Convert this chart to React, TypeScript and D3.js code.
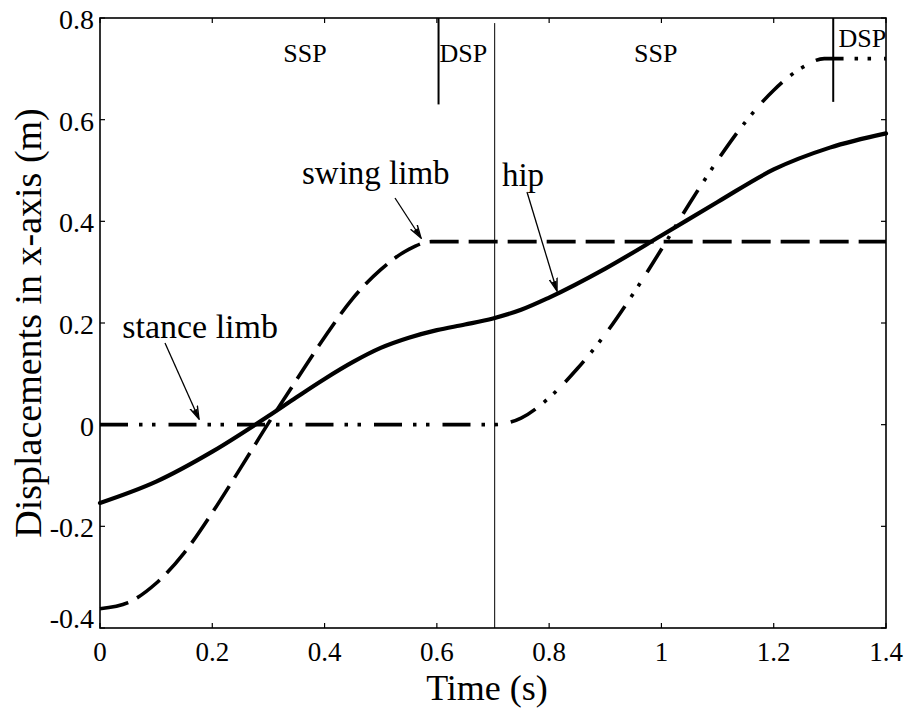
import React from "react";
import * as d3 from "d3";

// ---- data (time in s, displacement in m) ----
const hipTime = [0, 0.1, 0.2, 0.3, 0.35, 0.4, 0.45, 0.5, 0.55, 0.6, 0.65, 0.7, 0.75, 0.8, 0.9, 1.0, 1.1, 1.2, 1.3, 1.4];
const hipDisp = [-0.154, -0.112, -0.053, 0.017, 0.054, 0.09, 0.123, 0.151, 0.171, 0.186, 0.197, 0.209, 0.226, 0.25, 0.307, 0.372, 0.438, 0.502, 0.545, 0.573];

const swingTime = [0, 0.05, 0.1, 0.15, 0.2, 0.25, 0.3, 0.35, 0.4, 0.45, 0.5, 0.55, 0.59, 0.7, 1.0, 1.4];
const swingDisp = [-0.362, -0.35, -0.312, -0.252, -0.173, -0.086, 0.003, 0.088, 0.172, 0.248, 0.305, 0.345, 0.36, 0.36, 0.36, 0.36];

const stanceTime = [0, 0.35, 0.7, 0.72, 0.75, 0.8, 0.85, 0.9, 0.95, 1.0, 1.05, 1.1, 1.15, 1.2, 1.25, 1.29, 1.4];
const stanceDisp = [0, 0, 0, 0.002, 0.013, 0.053, 0.11, 0.178, 0.258, 0.345, 0.435, 0.52, 0.596, 0.658, 0.702, 0.72, 0.72];

const xTicks = [0, 0.2, 0.4, 0.6, 0.8, 1.0, 1.2, 1.4];
const xTickLabels = ["0", "0.2", "0.4", "0.6", "0.8", "1", "1.2", "1.4"];
const yTicks = [-0.4, -0.2, 0, 0.2, 0.4, 0.6, 0.8];
const yTickLabels = ["-0.4", "-0.2", "0", "0.2", "0.4", "0.6", "0.8"];

// phase boundaries (s) and phase labels
const phaseLines = [0.603, 1.306]; // short heavy markers (start of DSP)
const phaseLineBottom = [0.63, 0.635];
const stepBoundary = 0.703;
const phaseLabels = [
  { text: "SSP", t: 0.365, y: 0.713 },
  { text: "DSP", t: 0.647, y: 0.713 },
  { text: "SSP", t: 0.99, y: 0.713 },
  { text: "DSP", t: 1.358, y: 0.743 },
];

const FONT = "'Times New Roman', 'Liberation Serif', serif";

export default function App() {
  const W = 911, H = 708;
  const left = 100, right = 886, top = 18, bottom = 628;
  const x = d3.scaleLinear().domain([0, 1.4]).range([left, right]);
  const y = d3.scaleLinear().domain([-0.4, 0.8]).range([bottom, top]);

  const line = d3
    .line<[number, number]>()
    .x((d) => x(d[0]))
    .y((d) => y(d[1]))
    .curve(d3.curveMonotoneX);

  const zip = (a: number[], b: number[]) => a.map((t, i) => [t, b[i]] as [number, number]);
  const hipPath = line(zip(hipTime, hipDisp)) || "";
  const swingPath = line(zip(swingTime, swingDisp)) || "";
  const stancePath = line(zip(stanceTime, stanceDisp)) || "";

  const tickLen = 5;

  return (
    <svg
      width={W}
      height={H}
      viewBox={`0 0 ${W} ${H}`}
      style={{ position: "absolute", left: 0, top: 0, background: "#fff" }}
      fontFamily={FONT}
    >
      <defs>
        <marker id="arr" viewBox="0 0 14 10" refX="13" refY="5" markerWidth="14" markerHeight="10" markerUnits="userSpaceOnUse" orient="auto">
          <path d="M0,1 L13,5 L0,9" fill="none" stroke="#000" strokeWidth={1.4} />
          <path d="M3,2.5 L13,5 L3,7.5 Z" fill="#000" />
        </marker>
      </defs>
      <rect x={0} y={0} width={W} height={H} fill="#fff" />

      {/* step boundary (thin, full height) */}
      <line x1={x(stepBoundary)} x2={x(stepBoundary)} y1={y(0.79)} y2={bottom} stroke="#000" strokeWidth={1} />
      {/* DSP start markers */}
      {phaseLines.map((t, i) => (
        <line key={"pl" + i} x1={x(t)} x2={x(t)} y1={top} y2={y(phaseLineBottom[i])} stroke="#000" strokeWidth={2} />
      ))}
      {phaseLabels.map((p, i) => (
        <text key={"ph" + i} x={x(p.t)} y={y(p.y)} fontSize={26} textAnchor="middle" fill="#000">
          {p.text}
        </text>
      ))}

      {/* curves */}
      <path d={swingPath} fill="none" stroke="#000" strokeWidth={3.6} strokeDasharray="29 10" />
      <path d={stancePath} fill="none" stroke="#000" strokeWidth={3.6} strokeDasharray="28 11 3.5 9.5 3.5 13" />
      <path d={hipPath} fill="none" stroke="#000" strokeWidth={4.2} strokeLinecap="round" />

      {/* annotations */}
      <text x={302} y={184} fontSize={33} fill="#000">swing limb</text>
      <line x1={395} y1={198} x2={421} y2={238} stroke="#000" strokeWidth={1.3} markerEnd="url(#arr)" />
      <text x={278} y={338} fontSize={34} textAnchor="end" fill="#000">stance limb</text>
      <line x1={165} y1={343} x2={199} y2={419} stroke="#000" strokeWidth={1.3} markerEnd="url(#arr)" />
      <text x={523} y={186} fontSize={33} textAnchor="middle" fill="#000">hip</text>
      <line x1={527} y1={192} x2={557} y2={291} stroke="#000" strokeWidth={1.3} markerEnd="url(#arr)" />

      {/* axes box */}
      <rect x={left} y={top} width={right - left} height={bottom - top} fill="none" stroke="#000" strokeWidth={1.6} />
      {xTicks.map((t, i) => (
        <g key={"xt" + i}>
          <line x1={x(t)} x2={x(t)} y1={bottom} y2={bottom - tickLen} stroke="#000" strokeWidth={1.2} />
          <line x1={x(t)} x2={x(t)} y1={top} y2={top + tickLen} stroke="#000" strokeWidth={1.2} />
          <text x={x(t)} y={661} fontSize={27} textAnchor="middle" fill="#000">
            {xTickLabels[i]}
          </text>
        </g>
      ))}
      {yTicks.map((v, i) => (
        <g key={"yt" + i}>
          <line x1={left} x2={left + tickLen} y1={y(v)} y2={y(v)} stroke="#000" strokeWidth={1.2} />
          <line x1={right} x2={right - tickLen} y1={y(v)} y2={y(v)} stroke="#000" strokeWidth={1.2} />
          <text x={94} y={Math.min(y(v) + 11, bottom)} fontSize={28} textAnchor="end" fill="#000">
            {yTickLabels[i]}
          </text>
        </g>
      ))}

      <text x={487} y={700} fontSize={36} textAnchor="middle" fill="#000">
        Time (s)
      </text>
      <text
        transform={`translate(41, ${323}) rotate(-90)`}
        fontSize={38}
        textAnchor="middle"
        fill="#000"
      >
        Displacements in x-axis (m)
      </text>
    </svg>
  );
}
